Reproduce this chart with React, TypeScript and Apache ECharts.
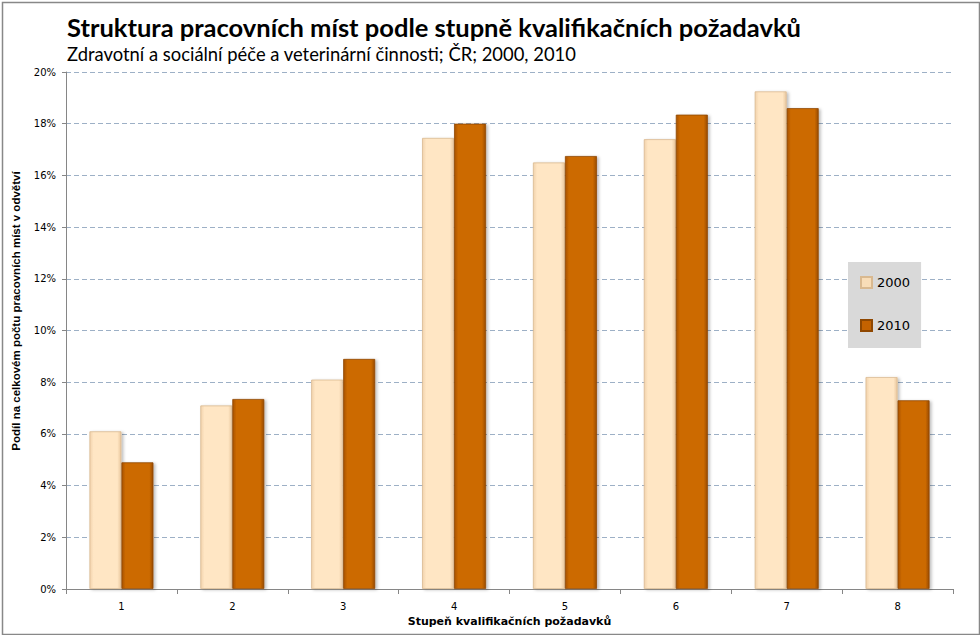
import React, { useEffect, useRef } from "react";
import * as echarts from "echarts";

const categories = ["1", "2", "3", "4", "5", "6", "7", "8"];
const values2000 = [6.1, 7.1, 8.1, 17.45, 16.5, 17.4, 19.25, 8.2];
const values2010 = [4.9, 7.35, 8.9, 18.0, 16.75, 18.35, 18.6, 7.3];
const yTicks = [0, 2, 4, 6, 8, 10, 12, 14, 16, 18, 20];
const yAxisTitle = "Podíl na celkovém počtu pracovních míst v odvětví";

export default function App() {
  const ref = useRef<HTMLDivElement>(null);
  useEffect(() => {
    document.body.style.margin = "0";
    const chart = echarts.init(ref.current!, null, { renderer: "svg" });
    const light = new echarts.graphic.LinearGradient(0, 0, 1, 0, [
      { offset: 0, color: "#F1D2AC" },
      { offset: 0.12, color: "#FFE6C4" },
      { offset: 0.88, color: "#FFE6C4" },
      { offset: 1, color: "#E9C79E" },
    ]);
    const dark = new echarts.graphic.LinearGradient(0, 0, 1, 0, [
      { offset: 0, color: "#A85200" },
      { offset: 0.12, color: "#CC6A04" },
      { offset: 0.88, color: "#CC6A04" },
      { offset: 1, color: "#9A4C00" },
    ]);
    chart.setOption({
      animation: false,
      backgroundColor: "#ffffff",
      title: {
        text: "Struktura pracovních míst podle stupně kvalifikačních požadavků",
        subtext: "Zdravotní a sociální péče a veterinární činnosti; ČR; 2000, 2010",
        left: 62,
        top: 9,
        itemGap: 5,
        textStyle: { fontFamily: "Lato", fontWeight: "bold", fontSize: 25.5, color: "#000" },
        subtextStyle: { fontFamily: "Lato", fontSize: 18.4, color: "#000" },
      },
      legend: {
        orient: "vertical",
        left: 848,
        top: 262,
        padding: [14, 11, 16, 12],
        itemGap: 30,
        itemWidth: 11,
        itemHeight: 11,
        backgroundColor: "#d9d9d9",
        textStyle: { fontFamily: "DejaVu Sans", fontSize: 13, color: "#000" },
        data: [
          { name: "2000", icon: "rect", itemStyle: { color: "#F8DDB8" } },
          { name: "2010", icon: "rect", itemStyle: { color: "#C46200" } },
        ],
      },
      grid: { left: 66, right: 27, top: 72, bottom: 46 },
      xAxis: {
        type: "category",
        data: categories,
        name: "Stupeň kvalifikačních požadavků",
        nameLocation: "middle",
        nameGap: 26,
        nameTextStyle: { fontFamily: "DejaVu Sans", fontWeight: "bold", fontSize: 11, color: "#000" },
        axisLine: { lineStyle: { color: "#868686" } },
        axisTick: { show: true, lineStyle: { color: "#868686" }, length: 5 },
        axisLabel: { fontFamily: "DejaVu Sans", fontSize: 10, color: "#000", margin: 12 },
      },
      yAxis: {
        type: "value",
        min: 0,
        max: 20,
        interval: 2,
        axisLine: { show: true, lineStyle: { color: "#868686" } },
        axisTick: { show: true, lineStyle: { color: "#868686" }, length: 4 },
        axisLabel: {
          fontFamily: "DejaVu Sans",
          fontSize: 10,
          color: "#000",
          margin: 10,
          formatter: (v: number) => (yTicks.includes(v) ? v + "%" : ""),
        },
        splitLine: { lineStyle: { color: "#9DB0C6", type: [5, 3] } },
      },
      series: [
        {
          name: "2000",
          type: "bar",
          data: values2000,
          barWidth: 32,
          barGap: "0%",
          itemStyle: { color: light, borderColor: "#D9B990", borderWidth: 0.8, shadowColor: "rgba(0,0,0,0.25)", shadowBlur: 3, shadowOffsetX: 2, shadowOffsetY: 1 },
        },
        {
          name: "2010",
          type: "bar",
          data: values2010,
          barWidth: 32,
          barGap: "0%",
          itemStyle: { color: dark, borderColor: "#8F4700", borderWidth: 0.8, shadowColor: "rgba(0,0,0,0.25)", shadowBlur: 3, shadowOffsetX: 2, shadowOffsetY: 1 },
        },
      ],
      graphic: [
        {
          type: "text",
          x: 16,
          y: 311,
          rotation: Math.PI / 2,
          style: {
            text: yAxisTitle,
            fontFamily: "Liberation Sans",
            fontWeight: "bold",
            fontSize: 11.5,
            fill: "#000",
            align: "center",
            verticalAlign: "middle",
          },
          silent: true,
        },
        {
          type: "rect",
          left: 0,
          top: 0,
          shape: { x: 0.5, y: 0.5, width: 977, height: 632 },
          style: { fill: "none", stroke: "#888", lineWidth: 1.5 },
          silent: true,
        },
      ],
    });
    return () => chart.dispose();
  }, []);
  return <div ref={ref} style={{ width: 980, height: 635 }} />;
}
